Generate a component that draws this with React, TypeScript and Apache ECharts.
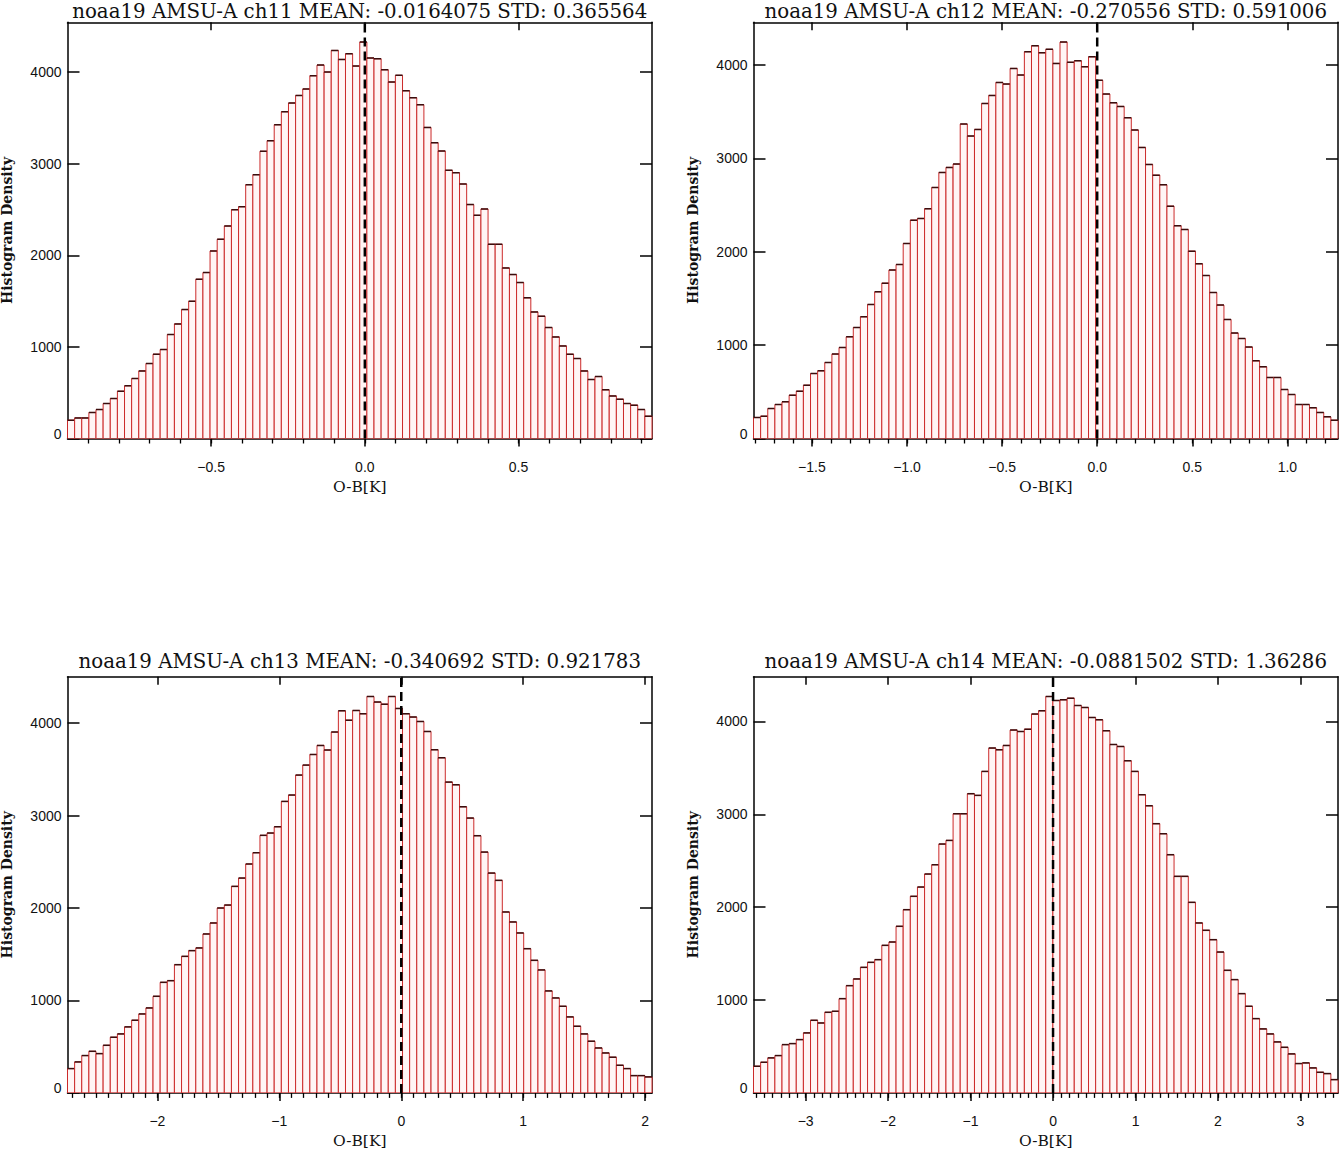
import React, { useEffect, useRef } from 'react';
import * as echarts from 'echarts';

// ---------- data ----------
const titles = [
  'noaa19 AMSU-A ch11 MEAN: -0.0164075 STD: 0.365564',
  'noaa19 AMSU-A ch12 MEAN: -0.270556 STD: 0.591006',
  'noaa19 AMSU-A ch13 MEAN: -0.340692 STD: 0.921783',
  'noaa19 AMSU-A ch14 MEAN: -0.0881502 STD: 1.36286',
];

const ch11 = [
  200, 225, 225, 284, 316, 382, 436, 516, 575, 655,
  738, 818, 920, 971, 1135, 1251, 1407, 1498, 1738, 1811,
  2047, 2175, 2320, 2498, 2531, 2771, 2880, 3135, 3251, 3425,
  3567, 3662, 3745, 3815, 3960, 4076, 4000, 4236, 4138, 4200,
  4065, 4327, 4153, 4145, 4025, 3891, 3964, 3796, 3720, 3644,
  3396, 3229, 3138, 2927, 2902, 2778, 2553, 2436, 2505, 2120,
  2120, 1862, 1789, 1702, 1535, 1382, 1335, 1211, 1109, 1011,
  920, 873, 738, 644, 676, 531, 465, 429, 382, 364,
  316, 244,
];

const ch12 = [
  225, 239, 321, 364, 393, 464, 507, 571, 696, 725,
  814, 904, 975, 1089, 1189, 1304, 1436, 1571, 1664, 1804,
  1864, 2089, 2339, 2357, 2461, 2689, 2850, 2904, 2939, 3368,
  3239, 3311, 3589, 3675, 3814, 3796, 3964, 3893, 4143, 4207,
  4132, 4168, 4018, 4246, 4029, 4046, 3982, 4089, 3836, 3689,
  3596, 3557, 3436, 3304, 3118, 2936, 2821, 2718, 2489, 2279,
  2239, 2007, 1871, 1746, 1564, 1429, 1275, 1129, 1071, 979,
  832, 768, 654, 654, 525, 471, 364, 364, 329, 279,
  232, 196,
];

const ch13 = [
  263, 335, 404, 450, 425, 515, 602, 638, 714, 786,
  854, 919, 1045, 1196, 1214, 1387, 1477, 1539, 1568, 1719,
  1838, 2000, 2032, 2234, 2324, 2476, 2598, 2786, 2811, 2879,
  3153, 3222, 3438, 3546, 3661, 3759, 3708, 3903, 4133, 4032,
  4137, 4101, 4288, 4227, 4205, 4288, 4159, 4101, 4065, 4018,
  3910, 3712, 3625, 3362, 3333, 3095, 2973, 2782, 2605, 2378,
  2299, 1957, 1849, 1730, 1560, 1434, 1330, 1103, 1027, 937,
  822, 721, 638, 559, 486, 432, 386, 299, 263, 187,
  187, 173,
];

const ch14 = [
  287, 330, 377, 402, 520, 531, 574, 646, 782, 753,
  868, 879, 1015, 1155, 1227, 1352, 1406, 1435, 1589, 1625,
  1794, 1973, 2117, 2217, 2357, 2457, 2680, 2719, 3006, 3006,
  3222, 3204, 3462, 3713, 3695, 3742, 3907, 3892, 3917, 4079,
  4115, 4269, 4226, 4233, 4251, 4172, 4151, 4043, 4018, 3900,
  3752, 3731, 3577, 3462, 3211, 3092, 2899, 2791, 2565, 2332,
  2332, 2052, 1830, 1751, 1650, 1517, 1320, 1220, 1069, 933,
  800, 689, 635, 549, 491, 420, 316, 323, 269, 222,
  208, 143,
];

const counts = [ch11, ch12, ch13, ch14];

// x extent of each histogram (O-B range)
const xRanges = [
  [-0.967, 0.934],
  [-1.807, 1.266],
  [-2.737, 2.056],
  [-3.632, 3.455],
];

const majorTicksX = [
  [-0.5, 0, 0.5],
  [-1.5, -1.0, -0.5, 0, 0.5, 1.0],
  [-2, -1, 0, 1, 2],
  [-3, -2, -1, 0, 1, 2, 3],
];
const labelDecimals = [1, 1, 0, 0];
const yTicks = [0, 1000, 2000, 3000, 4000];

const yName = 'Histogram Density';
const xName = 'O-B[K]';

// ---------- layout ----------
const gridPos = [
  { left: 67.5, top: 22.3, titleY: 11.5 },
  { left: 753.5, top: 22.3, titleY: 11.5 },
  { left: 67.5, top: 676.7, titleY: 661.7 },
  { left: 753.5, top: 676.7, titleY: 661.7 },
];
const GW = 584.5;
const GH = 416.2;

const SANS = '"Liberation Sans", Arial, sans-serif';
const SERIF = '"DejaVu Serif", "Liberation Serif", serif';

function minorTicks(min: number, max: number): number[] {
  const out: number[] = [];
  const s = Math.ceil(min * 10 - 1e-9);
  const e = Math.floor(max * 10 + 1e-9);
  for (let k = s; k <= e; k++) out.push(k / 10);
  return out;
}

const renderItem = (_params: any, api: any) => {
  const a = api.coord([api.value(0), api.value(2)]);
  const b = api.coord([api.value(1), 0]);
  return {
    type: 'group',
    children: [
      {
        type: 'rect',
        shape: { x: a[0], y: a[1], width: b[0] - a[0], height: b[1] - a[1] },
        style: { fill: '#fff5f5', stroke: '#cc2a2a', lineWidth: 1 },
      },
      {
        type: 'line',
        shape: { x1: a[0], y1: a[1], x2: b[0], y2: a[1] },
        style: { stroke: '#3a0d0d', lineWidth: 1.5 },
      },
    ],
  };
};

function buildOption() {
  const option: any = {
    animation: false,
    backgroundColor: '#ffffff',
    grid: [],
    xAxis: [],
    yAxis: [],
    series: [],
    graphic: [],
  };
  const axisLineStyle = { color: '#000', width: 1.5 };

  counts.forEach((data, i) => {
    const [xmin, xmax] = xRanges[i];
    const n = data.length;
    const w = (xmax - xmin) / n;
    const bins = data.map((v, k) => [xmin + k * w, xmin + (k + 1) * w, v]);
    const ymax = Math.round(Math.max(...data) * 1.05);
    const majors = majorTicksX[i];
    const dec = labelDecimals[i];
    const g = gridPos[i];

    option.grid.push({ left: g.left, top: g.top, width: GW, height: GH, containLabel: false });

    const base = {
      type: 'value',
      gridIndex: i,
      min: xmin,
      max: xmax,
      splitLine: { show: false },
      minorTick: { show: false },
    };
    const xi = option.xAxis.length;
    option.xAxis.push({
      ...base,
      position: 'bottom',
      axisLine: { show: true, onZero: false, lineStyle: axisLineStyle },
      axisTick: { show: true, inside: false, length: 8, customValues: majors, lineStyle: { color: '#000', width: 1.5 } },
      axisLabel: {
        show: true,
        customValues: majors,
        margin: 21,
        fontSize: 14,
        fontFamily: SANS,
        color: '#111',
        formatter: (v: number) => v.toFixed(dec).replace('-', '\u2212'),
      },
    });
    option.xAxis.push({
      ...base,
      position: 'bottom',
      axisLine: { show: false, onZero: false },
      axisTick: { show: true, inside: false, length: 5, customValues: minorTicks(xmin, xmax), lineStyle: { color: '#000', width: 1.3 } },
      axisLabel: { show: false },
    });
    option.xAxis.push({
      ...base,
      position: 'top',
      axisLine: { show: true, onZero: false, lineStyle: axisLineStyle },
      axisTick: { show: true, inside: true, length: 8, customValues: majors, lineStyle: { color: '#000', width: 1.5 } },
      axisLabel: { show: false },
    });

    const yi = option.yAxis.length;
    option.yAxis.push({
      type: 'value',
      gridIndex: i,
      min: 0,
      max: ymax,
      position: 'left',
      splitLine: { show: false },
      axisLine: { show: true, onZero: false, lineStyle: axisLineStyle },
      axisTick: { show: true, inside: true, length: 12, customValues: yTicks, lineStyle: { color: '#000', width: 1.5 } },
      axisLabel: {
        show: true,
        customValues: yTicks,
        margin: 6,
        fontSize: 14,
        fontFamily: SANS,
        color: '#111',
        formatter: (v: number) => (v === 0 ? '{z|0}' : String(v)),
        rich: { z: { fontSize: 14, fontFamily: SANS, color: '#111', padding: [0, 0, 9, 0] } },
      },
    });
    option.yAxis.push({
      type: 'value',
      gridIndex: i,
      min: 0,
      max: ymax,
      position: 'right',
      splitLine: { show: false },
      axisLine: { show: true, onZero: false, lineStyle: axisLineStyle },
      axisTick: { show: true, inside: true, length: 12, customValues: yTicks, lineStyle: { color: '#000', width: 1.5 } },
      axisLabel: { show: false },
    });

    option.series.push({
      type: 'custom',
      xAxisIndex: xi,
      yAxisIndex: yi,
      data: bins,
      encode: { x: [0, 1], y: 2 },
      renderItem,
      clip: true,
      z: 2,
      silent: true,
    });
    option.series.push({
      type: 'line',
      xAxisIndex: xi,
      yAxisIndex: yi,
      data: [[0, 0], [0, ymax]],
      symbol: 'none',
      lineStyle: { color: '#000', width: 2.5, type: [9, 5] },
      z: 5,
      silent: true,
    });

    const cx = g.left + GW / 2;
    const cy = g.top + GH / 2;
    option.graphic.push({
      type: 'text',
      x: cx,
      y: g.titleY,
      style: { text: titles[i], fontSize: 19.8, fontFamily: SERIF, fill: '#111', align: 'center', verticalAlign: 'middle' },
    });
    option.graphic.push({
      type: 'text',
      x: g.left - 60.5,
      y: cy,
      rotation: Math.PI / 2,
      style: { text: yName, fontSize: 14, fontWeight: 'bold', fontFamily: SERIF, fill: '#111', align: 'center', verticalAlign: 'middle' },
    });
    option.graphic.push({
      type: 'text',
      x: cx,
      y: g.top + GH + 48,
      style: { text: xName, fontSize: 15.5, fontFamily: SERIF, fill: '#111', align: 'center', verticalAlign: 'middle' },
    });
  });
  return option;
}

export default function App() {
  const ref = useRef<HTMLDivElement>(null);
  useEffect(() => {
    if (!ref.current) return;
    const chart = echarts.init(ref.current, undefined, { renderer: 'svg' });
    chart.setOption(buildOption());
    return () => chart.dispose();
  }, []);
  return (
    <div
      ref={ref}
      style={{ position: 'absolute', left: 0, top: 0, width: 1339, height: 1150, background: '#fff' }}
    />
  );
}
